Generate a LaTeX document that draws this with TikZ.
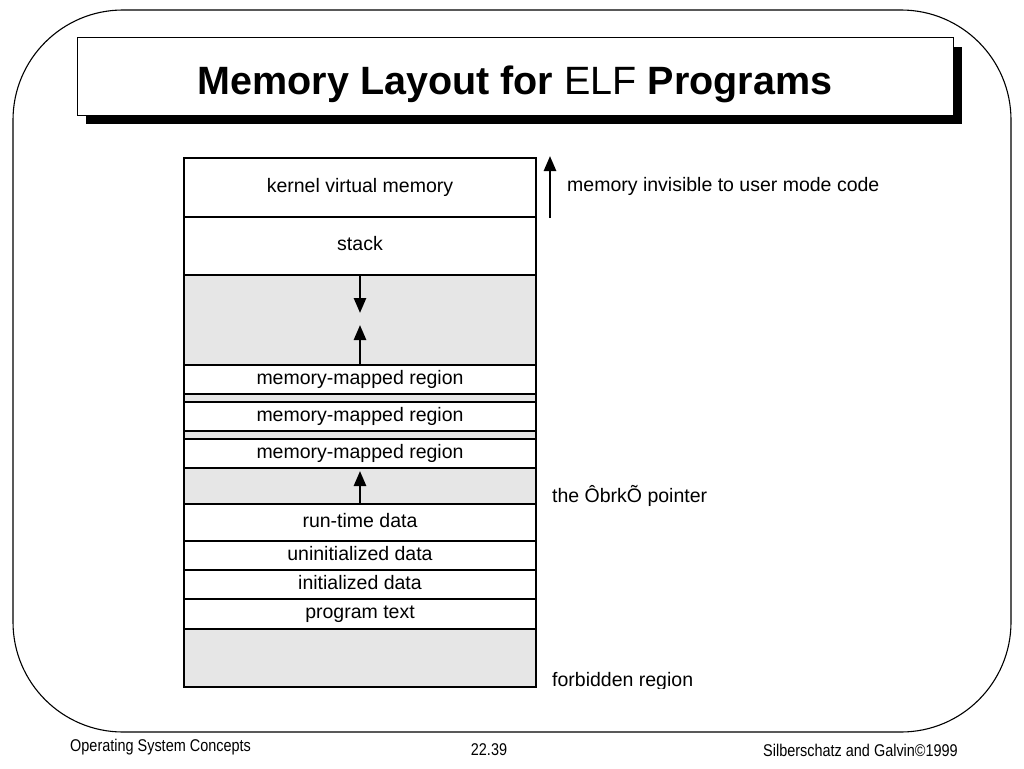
\documentclass[tikz,border=0pt]{standalone}
\usepackage{fontspec}
\usepackage{graphicx}
\setmainfont{Liberation Sans}
\usetikzlibrary{arrows.meta}
\definecolor{gapgray}{HTML}{E6E6E6}
\begin{document}
\begin{tikzpicture}[x=1pt,y=-1pt,
  row/.style={draw, line width=1.8pt, minimum width=352pt, inner sep=0pt,
    font=\fontsize{19.5}{22}\selectfont, text height=14pt, text depth=4pt, anchor=north},
  gaprow/.style={row, fill=gapgray},
  side/.style={font=\fontsize{19.5}{22}\selectfont, inner sep=0pt, anchor=west, text height=14pt, text depth=4pt},
  arr/.style={line width=2.6pt, -{Triangle[length=15pt,width=12pt]}},
  foot/.style={font=\fontsize{17}{20}\selectfont, inner sep=0pt}
]
\useasboundingbox (0,0) rectangle (1024,768);
\fill[white] (0,0) rectangle (1024,768);
% outer frame
\draw[line width=1.1pt, rounded corners=110pt] (13,10) rectangle (1011,732);
% title
\fill[black] (86,47) rectangle (962,124);
\draw[line width=1pt, fill=white] (77,38) rectangle (953,115);
\node[inner sep=0pt, anchor=base, font=\fontsize{39.5}{44}\selectfont] (title) at (515,94)
  {\textbf{Memory Layout for} ELF \textbf{Programs}};
% memory column
\node[row, minimum height=59pt] (kern) at (360,157) {kernel virtual memory};
\node[row, minimum height=58pt] (stack) at (360,216) {stack};
\node[gaprow, minimum height=90pt] (free1) at (360,274) {};
\node[row, minimum height=29pt] (mm1) at (360,364) {memory-mapped region};
\node[gaprow, minimum height=8pt, text height=0pt, text depth=0pt] (g1) at (360,393) {};
\node[row, minimum height=29pt] (mm2) at (360,401) {memory-mapped region};
\node[gaprow, minimum height=8pt, text height=0pt, text depth=0pt] (g2) at (360,430) {};
\node[row, minimum height=29pt] (mm3) at (360,438) {memory-mapped region};
\node[gaprow, minimum height=36pt] (free2) at (360,467) {};
\node[row, minimum height=37pt] (rt) at (360,503) {run-time data};
\node[row, minimum height=29pt] (bss) at (360,540) {uninitialized data};
\node[row, minimum height=29pt] (data) at (360,569) {initialized data};
\node[row, minimum height=30pt] (text) at (360,598) {program text};
\node[gaprow, minimum height=58pt] (forb) at (360,628) {};
% arrows in free areas
\coordinate (dtip) at (360,313);
\coordinate (utip) at (360,325);
\coordinate (btip) at (360,471);
\draw[arr] (free1.north) -- (dtip);
\draw[arr] (free1.south) -- (utip);
\draw[arr] (free2.south) -- (btip);
% right side
\coordinate (ka) at (550,218);
\coordinate (kb) at (550,156);
\draw[arr] (ka) -- (kb);
\node[side] (inv) at (567,186) {memory invisible to user mode code};
\node[side] (brk) at (552,497) {the ÔbrkÕ pointer};
\begin{scope}
\clip (540,650) rectangle (760,688.5);
\node[side] (forbl) at (552,681) {forbidden region};
\end{scope}
% footer
\node[foot, anchor=west] (f1) at (70,747) {\scalebox{0.85}[1]{Operating System Concepts}};
\node[foot] (f2) at (489,750) {\scalebox{0.85}[1]{22.39}};
\node[foot, anchor=east] (f3) at (958,750) {\scalebox{0.85}[1]{Silberschatz and Galvin©1999}};
\end{tikzpicture}
\end{document}
